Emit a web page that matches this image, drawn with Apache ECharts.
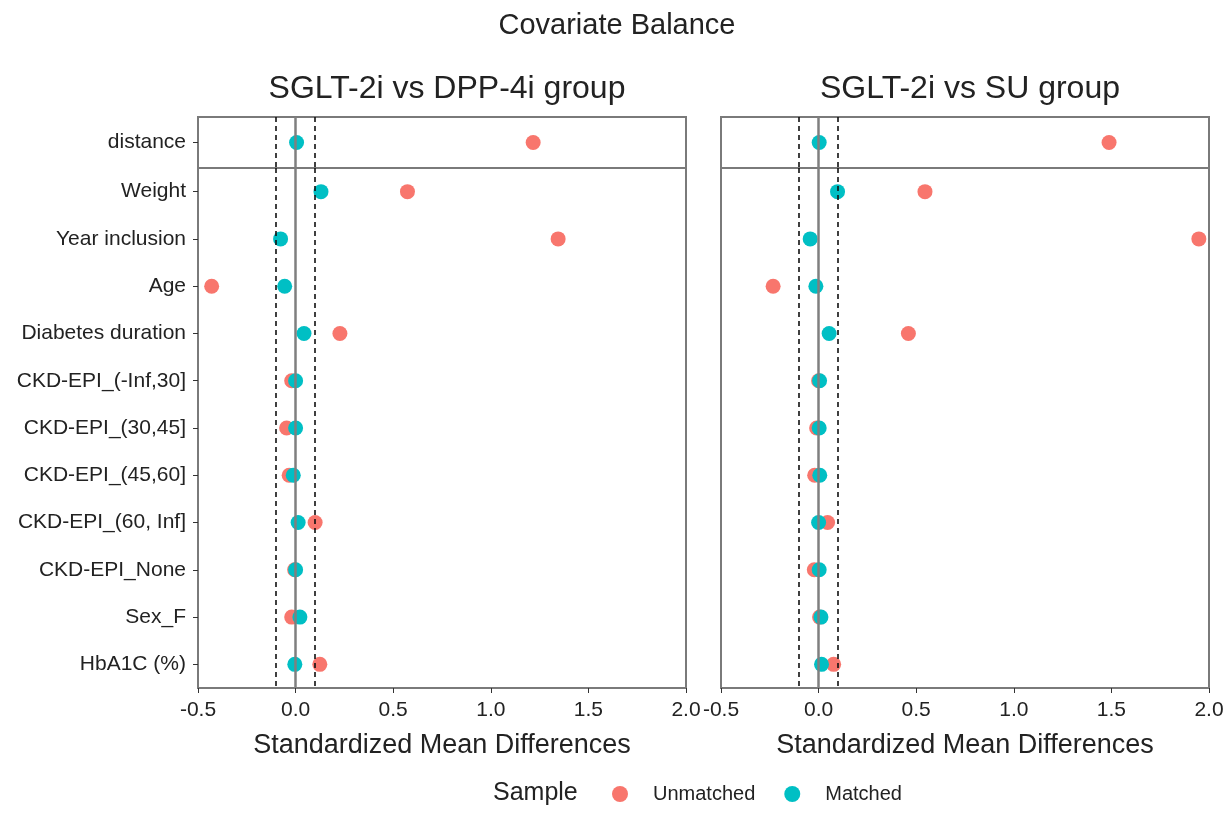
<!DOCTYPE html>
<html>
<head>
<meta charset="utf-8">
<script src="https://cdn.jsdelivr.net/npm/echarts@6/dist/echarts.min.js"></script>
<style>
html,body{margin:0;padding:0;background:#fff;}
#chart{width:1227px;height:837px;}
</style>
</head>
<body>
<div id="chart"></div>
<script>
// ---- data ----
const topCategories = ['distance'];
const covariates = ['Weight','Year inclusion','Age','Diabetes duration','CKD-EPI_(-Inf,30]','CKD-EPI_(30,45]','CKD-EPI_(45,60]','CKD-EPI_(60, Inf]','CKD-EPI_None','Sex_F','HbA1C (%)'];
const panelTitles = ['SGLT-2i vs DPP-4i group','SGLT-2i vs SU group'];
const xTicks = [-0.5, 0.0, 0.5, 1.0, 1.5, 2.0];

// SGLT-2i vs DPP-4i
const dppDistUnmatched = [1.217];
const dppDistMatched = [0.005];
const dppUnmatched = [0.573, 1.345, -0.43, 0.227, -0.02, -0.046, -0.033, 0.10, -0.005, -0.02, 0.124];
const dppMatched   = [0.13, -0.077, -0.056, 0.043, 0.0, 0.0, -0.012, 0.013, 0.0, 0.022, -0.004];

// SGLT-2i vs SU
const suDistUnmatched = [1.488];
const suDistMatched = [0.003];
const suUnmatched = [0.545, 1.948, -0.233, 0.46, 0.0, -0.01, -0.02, 0.046, -0.022, 0.005, 0.077];
const suMatched   = [0.097, -0.043, -0.014, 0.054, 0.005, 0.003, 0.006, 0.0, 0.003, 0.012, 0.015];

const threshold = 0.1;

// ---- styles ----
const colUnmatched = '#F8766D';
const colMatched = '#00BFC4';
const borderCol = '#7a7a7a';
const font = '"Liberation Sans", Arial, sans-serif';
const textCol = '#222';

const panelLeft = [198, 721];
const panelWidth = 488;
const topY = 117, topH = 51, botY = 168, botH = 520;

const grids = [];
const xAxes = [];
const yAxes = [];
const series = [];

function pairs(vals, cats){ return vals.map((v,i)=>[v, cats[i]]); }

const panels = [
  {du: dppDistUnmatched, dm: dppDistMatched, u: dppUnmatched, m: dppMatched, labels: true},
  {du: suDistUnmatched, dm: suDistMatched, u: suUnmatched, m: suMatched, labels: false}
];

panels.forEach((p, pi) => {
  [[topY, topH, topCategories, p.du, p.dm, false], [botY, botH, covariates, p.u, p.m, true]].forEach((g) => {
    const idx = grids.length;
    grids.push({left: panelLeft[pi], width: panelWidth, top: g[0], height: g[1], show: true,
      borderColor: borderCol, borderWidth: 2, backgroundColor: '#fff', containLabel: false});
    xAxes.push({
      type: 'value', gridIndex: idx, min: -0.5, max: 2.0, interval: 0.5,
      show: g[5],
      axisLine: {show: true, onZero: false, lineStyle: {color: borderCol, width: 2}},
      axisTick: {show: true, length: 5, lineStyle: {color: '#333', width: 1}},
      axisLabel: {show: true, fontSize: 21, color: textCol, fontFamily: font, margin: 12,
        formatter: v => v.toFixed(1)},
      splitLine: {show: false},
      name: 'Standardized Mean Differences', nameLocation: 'middle', nameGap: 44,
      nameTextStyle: {fontSize: 27, color: textCol, fontFamily: font}
    });
    yAxes.push({
      type: 'category', gridIndex: idx, data: g[2], inverse: true, position: 'left',
      axisLine: {show: false, onZero: false},
      axisTick: {show: p.labels, alignWithLabel: true, length: 5, lineStyle: {color: '#333'}},
      axisLabel: {show: p.labels, fontSize: 21, color: textCol, fontFamily: font, margin: 12},
      splitLine: {show: false}
    });
    series.push({
      type: 'scatter', xAxisIndex: idx, yAxisIndex: idx, data: [], z: 1, silent: true,
      markLine: {
        silent: true, symbol: 'none', animation: false,
        label: {show: false},
        data: [
          {xAxis: 0, lineStyle: {color: '#7f7f7f', width: 2.5, type: 'solid'}},
          {xAxis: -threshold, lineStyle: {color: '#111', width: 1.6, type: [5, 4]}},
          {xAxis: threshold, lineStyle: {color: '#111', width: 1.6, type: [5, 4]}}
        ]
      }
    });
    series.push({
      name: 'Unmatched', type: 'scatter', xAxisIndex: idx, yAxisIndex: idx, z: 3,
      symbol: 'circle', symbolSize: 15, itemStyle: {color: colUnmatched, opacity: 1},
      data: pairs(g[3], g[2])
    });
    series.push({
      name: 'Matched', type: 'scatter', xAxisIndex: idx, yAxisIndex: idx, z: 4,
      symbol: 'circle', symbolSize: 15, itemStyle: {color: colMatched, opacity: 1},
      data: pairs(g[4], g[2])
    });
  });
});

const chart = echarts.init(document.getElementById('chart'), null, {renderer: 'canvas'});
chart.setOption({
  animation: false,
  backgroundColor: '#fff',
  title: [
    {text: 'Covariate Balance', left: 612, textAlign: 'center', top: 6,
      textStyle: {fontSize: 29, fontWeight: 'normal', color: textCol, fontFamily: font}},
    {text: panelTitles[0], left: panelLeft[0] + panelWidth/2, textAlign: 'center', top: 68,
      textStyle: {fontSize: 32, fontWeight: 'normal', color: textCol, fontFamily: font}},
    {text: panelTitles[1], left: panelLeft[1] + panelWidth/2, textAlign: 'center', top: 68,
      textStyle: {fontSize: 32, fontWeight: 'normal', color: textCol, fontFamily: font}}
  ],
  graphic: [
    {type: 'text', left: 493, top: 781, style: {text: 'Sample', fontSize: 25, fill: textCol, font: '25px "Liberation Sans", Arial, sans-serif'}}
  ],
  legend: {
    data: ['Unmatched', 'Matched'], left: 607, top: 779, orient: 'horizontal',
    icon: 'circle', itemWidth: 16, itemHeight: 16, itemGap: 29,
    textStyle: {fontSize: 20, color: textCol, fontFamily: font, padding: [0, 0, 0, 20]}
  },
  grid: grids, xAxis: xAxes, yAxis: yAxes, series: series
});
</script>
</body>
</html>
